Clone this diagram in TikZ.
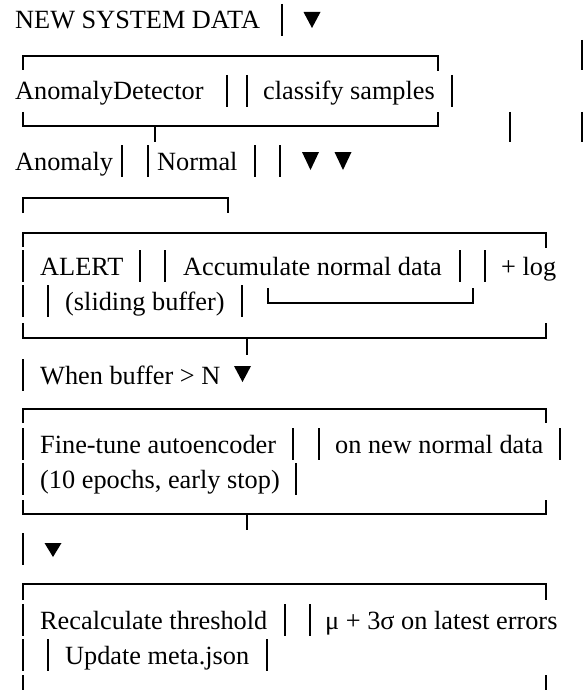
\documentclass[tikz,border=0pt]{standalone}
\usepackage{fontspec}
\setmainfont{Liberation Serif}
\begin{document}
\begin{tikzpicture}[x=1pt,y=-1pt,
  txt/.style={inner sep=0pt,anchor=base west,font=\fontsize{26.3}{30}\selectfont},
  ln/.style={line width=1.6pt,line cap=butt},
  tri/.style={fill=black}]
\useasboundingbox (0,0) rectangle (587,690);
\newcommand\myvbar[2]{\draw[ln] (#1,{#2-25}) -- (#1,{#2+7});}
\newcommand\mytri[3]{\fill[tri] ({#1-8.5},#2) -- ({#1+8.5},#2) -- (#1,#3) -- cycle;}
% line 1
\node[txt] (newdata) at (15,29) {NEW SYSTEM DATA};
\myvbar{282}{29}
\mytri{312}{12}{28}
% box 1
\draw[ln] (23,70) -- (23,56) -- (438,56) -- (438,71);
\node[txt] (detector) at (15,100) {AnomalyDetector};
\myvbar{227}{100}\myvbar{247}{100}
\node[txt] (classify) at (263,100) {classify samples};
\myvbar{452}{100}
\draw[ln] (23,112) -- (23,126) -- (438,126) -- (438,112);
\draw[ln] (155,126) -- (155,142);
\draw[ln] (582,40) -- (582,70);
\draw[ln] (510,112) -- (510,142);
\draw[ln] (582,112) -- (582,142);
% line 5
\node[txt] (anomaly) at (15,170) {Anomaly};
\myvbar{122}{170}\myvbar{148}{170}
\node[txt] (normal) at (157,170) {Normal};
\myvbar{255}{170}\myvbar{280}{170}
\mytri{310.5}{152}{170}
\mytri{343}{152}{170}
% bracket
\draw[ln] (23,213) -- (23,198) -- (228,198) -- (228,213);
% big box
\draw[ln] (23,247) -- (23,233) -- (546,233) -- (546,248);
\myvbar{23}{275}
\node[txt] (alert) at (40,275) {ALERT};
\myvbar{140}{275}\myvbar{165}{275}
\node[txt] (accum) at (183,275) {Accumulate normal data};
\myvbar{460}{275}\myvbar{485}{275}
\node[txt] (log) at (501,275) {+ log};
\myvbar{23}{310}\myvbar{48}{310}
\node[txt] (sliding) at (65,310) {(sliding buffer)};
\myvbar{242}{310}
\draw[ln] (268,288) -- (268,303) -- (473,303) -- (473,288);
\draw[ln] (23,323) -- (23,338) -- (546,338) -- (546,323);
\draw[ln] (247,338) -- (247,355);
% when buffer
\myvbar{23}{384}
\node[txt] (when) at (40,384) {When buffer > N};
\mytri{242.5}{366}{382}
% fine-tune box
\draw[ln] (23,423) -- (23,409) -- (546,409) -- (546,423);
\myvbar{23}{453}
\node[txt] (fine) at (40,453) {Fine-tune autoencoder};
\myvbar{293}{453}\myvbar{319}{453}
\node[txt] (onnew) at (335,453) {on new normal data};
\myvbar{560}{453}
\myvbar{23}{488}
\node[txt] (epochs) at (40,488) {(10 epochs, early stop)};
\myvbar{296}{488}
\draw[ln] (23,500) -- (23,514) -- (546,514) -- (546,500);
\draw[ln] (247,514) -- (247,530);
% arrow line
\draw[ln] (23,533) -- (23,565);
\mytri{53}{543}{557}
% threshold box
\draw[ln] (23,600) -- (23,584) -- (546,584) -- (546,600);
\myvbar{23}{629}
\node[txt] (recalc) at (40,629) {Recalculate threshold};
\myvbar{285}{629}\myvbar{310}{629}
\node[txt] (mu) at (325,629) {μ + 3σ on latest errors};
\myvbar{23}{664}\myvbar{48}{664}
\node[txt] (update) at (65,664) {Update meta.json};
\myvbar{267}{664}
\draw[ln] (23,675) -- (23,690);
\draw[ln] (546,675) -- (546,690);
\end{tikzpicture}
\end{document}
